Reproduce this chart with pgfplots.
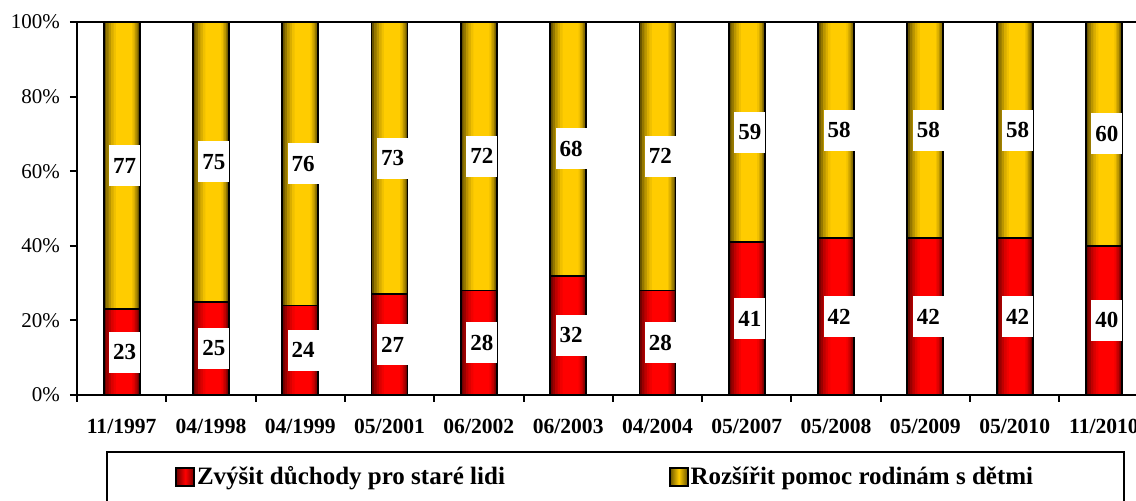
\documentclass[border=0pt]{standalone}
\usepackage{fontspec}
\setmainfont{Liberation Serif}
\usepackage{pgfplots}
\pgfplotsset{compat=1.18}
\usepackage{pgfplotstable}
\definecolor{redlight}{HTML}{FF0000}
\definecolor{reddark}{HTML}{6E0000}
\definecolor{goldlight}{HTML}{FFCC00}
\definecolor{golddark}{HTML}{665200}

\pgfplotsset{
  % one band of the stepped gradient: width, shift, colour
  band/.style n args={3}{ybar, forget plot, draw=none, fill=#3, bar width=#1, bar shift=#2},
  outline/.style={ybar, bar width=18pt, bar shift=0pt, draw=black, line width=0.9pt, fill=none},
  boxlegend/.style 2 args={legend image code/.code={%
    \draw[line width=0.8pt, left color=#2, right color=#2, middle color=#1] (0pt,-4.5pt) rectangle (9pt,4.5pt);}},
  seglabel/.style={forget plot, draw=none, mark=none, nodes near coords, point meta=explicit,
    every node near coord/.append style={anchor=center, fill=white, inner sep=0pt,
      minimum width=15.5pt, minimum height=20.5pt, xshift=1.5pt,
      font=\fontsize{11.5}{13}\selectfont\bfseries}},
}

% red = Zvysit duchody, yellow = Rozsirit pomoc rodinam
\pgfplotstableread{
x red yellow
0 23 77
1 25 75
2 24 76
3 27 73
4 28 72
5 32 68
6 28 72
7 41 59
8 42 58
9 42 58
10 42 58
11 40 60
}\data

\begin{document}
\begin{tikzpicture}
\path[use as bounding box] (-38.5pt,-53pt) rectangle (529.5pt,197.5pt);
\clip (-38.5pt,-53pt) rectangle (529.5pt,197.5pt);
\begin{axis}[
  at={(0,0)}, anchor=south west,
  scale only axis, width=535.8pt, height=186.5pt,
  xmin=-0.5, xmax=11.5, ymin=0, ymax=100,
  axis line style={line width=1.2pt},
  tick align=outside, tick pos=left,
  xtick={0,...,11},
  xticklabels={11/1997,04/1998,04/1999,05/2001,06/2002,06/2003,04/2004,05/2007,05/2008,05/2009,05/2010,11/2010},
  major x tick style={draw=none},
  minor xtick={-0.5,0.5,...,11.5},
  major tick length=3.5pt, minor tick length=3.5pt,
  tick style={black, line width=1pt},
  ytick={0,20,...,100},
  yticklabel={\pgfmathprintnumber{\tick}\%},
  /pgf/number format/assume math mode=true,
  yticklabel style={font=\fontsize{10.5}{12}\selectfont, xshift=-1.5pt},
  xticklabel style={font=\fontsize{10.8}{12}\selectfont\bfseries, yshift=-5pt},
  reverse legend,
  legend columns=2,
  legend style={draw=none, fill=none, at={(0.0915,-0.22)}, anchor=west,
    inner sep=0pt, font=\fontsize{12.5}{14}\selectfont\bfseries,
    nodes={inner xsep=1pt},
    /tikz/every even column/.append style={column sep=81pt}},
]
% yellow: total height, stepped gradient
\addplot[band={18pt}{0pt}{golddark}] table[x=x, y expr=\thisrow{red}+\thisrow{yellow}] {\data};
\addplot[band={16pt}{0.25pt}{goldlight!30!golddark}] table[x=x, y expr=\thisrow{red}+\thisrow{yellow}] {\data};
\addplot[band={14pt}{0.5pt}{goldlight!55!golddark}] table[x=x, y expr=\thisrow{red}+\thisrow{yellow}] {\data};
\addplot[band={12pt}{0.75pt}{goldlight!75!golddark}] table[x=x, y expr=\thisrow{red}+\thisrow{yellow}] {\data};
\addplot[band={10pt}{1pt}{goldlight!90!golddark}] table[x=x, y expr=\thisrow{red}+\thisrow{yellow}] {\data};
\addplot[band={8pt}{1.2pt}{goldlight}] table[x=x, y expr=\thisrow{red}+\thisrow{yellow}] {\data};
\addplot[outline, boxlegend={goldlight}{golddark}] table[x=x, y expr=\thisrow{red}+\thisrow{yellow}] {\data};
\addlegendentry{Rozšířit pomoc rodinám s dětmi}
% red: stepped gradient
\addplot[band={18pt}{0pt}{reddark}] table[x=x, y=red] {\data};
\addplot[band={16pt}{0.25pt}{redlight!30!reddark}] table[x=x, y=red] {\data};
\addplot[band={14pt}{0.5pt}{redlight!55!reddark}] table[x=x, y=red] {\data};
\addplot[band={12pt}{0.75pt}{redlight!75!reddark}] table[x=x, y=red] {\data};
\addplot[band={10pt}{1pt}{redlight!90!reddark}] table[x=x, y=red] {\data};
\addplot[band={8pt}{1.2pt}{redlight}] table[x=x, y=red] {\data};
\addplot[outline, boxlegend={redlight}{reddark}] table[x=x, y=red] {\data};
\addlegendentry{Zvýšit důchody pro staré lidi}
% value labels in the middle of each segment
\addplot[seglabel] table[x=x, y expr=\thisrow{red}/2, meta=red] {\data};
\addplot[seglabel] table[x=x, y expr=\thisrow{red}+\thisrow{yellow}/2, meta=yellow] {\data};
\end{axis}
\draw[line width=1pt] (15pt,-28.5pt) rectangle (523.5pt,-90pt);
\end{tikzpicture}
\end{document}
